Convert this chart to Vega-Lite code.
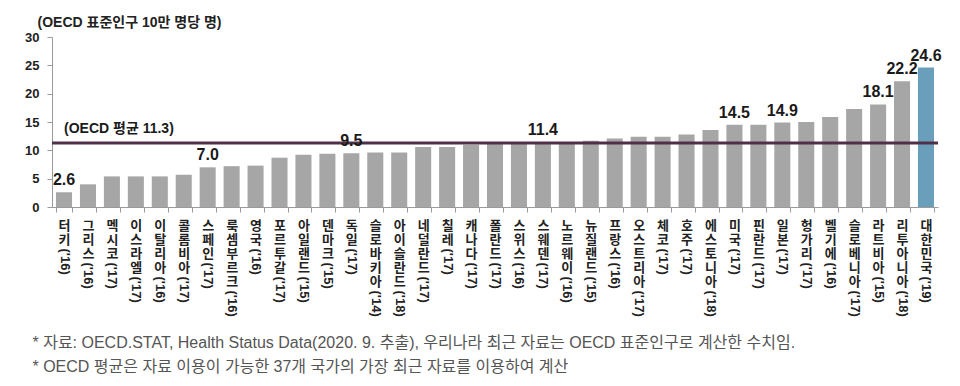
{
  "$schema": "https://vega.github.io/schema/vega-lite/v6.json",
  "width": 886,
  "height": 170,
  "autosize": "none",
  "padding": {"left": 52, "top": 37, "right": 22, "bottom": 179},
  "background": "white",
  "config": {"view": {"stroke": null}, "font": "Liberation Sans"},
  "data": {"values": [
    {"label": "터키('16)", "v": 2.6, "lbl": "2.6", "kr": false},
    {"label": "그리스('16)", "v": 4.0, "kr": false},
    {"label": "멕시코('17)", "v": 5.4, "kr": false},
    {"label": "이스라엘('17)", "v": 5.4, "kr": false},
    {"label": "이탈리아('16)", "v": 5.4, "kr": false},
    {"label": "콜롬비아('17)", "v": 5.7, "kr": false},
    {"label": "스페인('17)", "v": 7.0, "lbl": "7.0", "kr": false},
    {"label": "룩셈부르크('16)", "v": 7.2, "kr": false},
    {"label": "영국('16)", "v": 7.3, "kr": false},
    {"label": "포르투갈('17)", "v": 8.7, "kr": false},
    {"label": "아일랜드('15)", "v": 9.2, "kr": false},
    {"label": "덴마크('15)", "v": 9.4, "kr": false},
    {"label": "독일('17)", "v": 9.5, "lbl": "9.5", "kr": false},
    {"label": "슬로바키아('14)", "v": 9.6, "kr": false},
    {"label": "아이슬란드('18)", "v": 9.6, "kr": false},
    {"label": "네덜란드('17)", "v": 10.6, "kr": false},
    {"label": "칠레('17)", "v": 10.6, "kr": false},
    {"label": "캐나다('17)", "v": 11.0, "kr": false},
    {"label": "폴란드('17)", "v": 11.1, "kr": false},
    {"label": "스위스('16)", "v": 11.2, "kr": false},
    {"label": "스웨덴('17)", "v": 11.4, "lbl": "11.4", "kr": false},
    {"label": "노르웨이('16)", "v": 11.4, "kr": false},
    {"label": "뉴질랜드('15)", "v": 11.7, "kr": false},
    {"label": "프랑스('16)", "v": 12.1, "kr": false},
    {"label": "오스트리아('17)", "v": 12.4, "kr": false},
    {"label": "체코('17)", "v": 12.4, "kr": false},
    {"label": "호주('17)", "v": 12.8, "kr": false},
    {"label": "에스토니아('18)", "v": 13.6, "kr": false},
    {"label": "미국('17)", "v": 14.5, "lbl": "14.5", "kr": false},
    {"label": "핀란드('17)", "v": 14.5, "kr": false},
    {"label": "일본('17)", "v": 14.9, "lbl": "14.9", "kr": false},
    {"label": "헝가리('17)", "v": 15.0, "kr": false},
    {"label": "벨기에('16)", "v": 15.9, "kr": false},
    {"label": "슬로베니아('17)", "v": 17.3, "kr": false},
    {"label": "라트비아('15)", "v": 18.1, "lbl": "18.1", "kr": false},
    {"label": "리투아니아('18)", "v": 22.2, "lbl": "22.2", "kr": false},
    {"label": "대한민국('19)", "v": 24.6, "lbl": "24.6", "kr": true}
  ]},
  "resolve": {"scale": {"x": "shared", "y": "shared"}, "axis": {"x": "independent", "y": "independent"}},
  "layer": [
    {
      "mark": {"type": "bar"},
      "encoding": {
        "x": {
          "field": "label", "type": "nominal", "sort": null,
          "scale": {"paddingInner": 0.33, "paddingOuter": 0.167},
          "axis": {
            "orient": "bottom",
            "title": null,
            "labelExpr": "isString(datum.label) && indexof(datum.label, '(') > 0 ? split(split(datum.label, '(')[0], '') : ''",
            "labelAngle": 0, "labelAlign": "center", "labelBaseline": "top",
            "labelFont": "Noto Sans CJK KR", "labelFontSize": 13, "labelFontWeight": "bold",
            "labelLineHeight": 14, "labelColor": "#222222", "labelPadding": 7,
            "labelOverlap": false,
            "tickBand": "extent", "tickSize": 5, "tickColor": "#9a9a9a", "domainColor": "#9a9a9a"
          }
        },
        "y": {
          "field": "v", "type": "quantitative",
          "scale": {"domain": [0, 30], "nice": false},
          "axis": {
            "orient": "left",
            "values": [0, 5, 10, 15, 20, 25, 30], "grid": false,
            "title": "(OECD 표준인구 10만 명당 명)",
            "titleAngle": 0, "titleAlign": "left", "titleBaseline": "middle",
            "titleX": -15, "titleY": -15, "titleFont": "Liberation Sans, Noto Sans CJK KR",
            "titleFontSize": 14, "titleFontWeight": "bold", "titleColor": "#222222",
            "labelFontSize": 13, "labelFontWeight": "bold", "labelColor": "#222222",
            "labelPadding": 8, "tickSize": 5, "tickColor": "#9a9a9a", "domainColor": "#9a9a9a"
          }
        },
        "color": {
          "field": "kr", "type": "nominal",
          "scale": {"domain": [false, true], "range": ["#a6a6a6", "#6a9fbb"]},
          "legend": null
        }
      }
    },
    {
      "mark": {"type": "bar", "opacity": 0},
      "encoding": {
        "x": {
          "field": "label", "type": "nominal", "sort": null,
          "axis": {
            "orient": "bottom",
            "labelExpr": "isString(datum.label) && length(split(datum.label, '(')[0]) == 2 && indexof(datum.label, '(') > 0 ? '(' + split(datum.label, '(')[1] : ''",
            "labelAngle": 90, "labelAlign": "left", "labelBaseline": "middle",
            "labelFont": "Liberation Sans", "labelFontSize": 13, "labelFontWeight": "bold",
            "labelColor": "#222222", "labelPadding": 36, "labelOverlap": false,
            "tickBand": "extent", "tickSize": 5, "tickOpacity": 0, "domain": false,
            "title": ["* 자료: OECD.STAT, Health Status Data(2020. 9. 추출), 우리나라 최근 자료는 OECD 표준인구로 계산한 수치임.", "* OECD 평균은 자료 이용이 가능한 37개 국가의 가장 최근 자료를 이용하여 계산"],
            "titleX": -20, "titleY": 127, "titleAlign": "left", "titleBaseline": "top", "titleAngle": 0,
            "titleFont": "Liberation Sans, Noto Sans CJK KR", "titleFontSize": 16, "titleFontWeight": "normal",
            "titleColor": "#555555", "titleLineHeight": 24
          }
        },
        "y": {"field": "v", "type": "quantitative", "axis": null}
      }
    },
    {
      "mark": {"type": "bar", "opacity": 0},
      "encoding": {
        "x": {
          "field": "label", "type": "nominal", "sort": null,
          "axis": {
            "orient": "bottom", "title": null,
            "labelExpr": "isString(datum.label) && length(split(datum.label, '(')[0]) == 3 && indexof(datum.label, '(') > 0 ? '(' + split(datum.label, '(')[1] : ''",
            "labelAngle": 90, "labelAlign": "left", "labelBaseline": "middle",
            "labelFont": "Liberation Sans", "labelFontSize": 13, "labelFontWeight": "bold",
            "labelColor": "#222222", "labelPadding": 50, "labelOverlap": false,
            "tickBand": "extent", "tickSize": 5, "tickOpacity": 0, "domain": false
          }
        },
        "y": {"field": "v", "type": "quantitative", "axis": null}
      }
    },
    {
      "mark": {"type": "bar", "opacity": 0},
      "encoding": {
        "x": {
          "field": "label", "type": "nominal", "sort": null,
          "axis": {
            "orient": "bottom", "title": null,
            "labelExpr": "isString(datum.label) && length(split(datum.label, '(')[0]) == 4 && indexof(datum.label, '(') > 0 ? '(' + split(datum.label, '(')[1] : ''",
            "labelAngle": 90, "labelAlign": "left", "labelBaseline": "middle",
            "labelFont": "Liberation Sans", "labelFontSize": 13, "labelFontWeight": "bold",
            "labelColor": "#222222", "labelPadding": 64, "labelOverlap": false,
            "tickBand": "extent", "tickSize": 5, "tickOpacity": 0, "domain": false
          }
        },
        "y": {"field": "v", "type": "quantitative", "axis": null}
      }
    },
    {
      "mark": {"type": "bar", "opacity": 0},
      "encoding": {
        "x": {
          "field": "label", "type": "nominal", "sort": null,
          "axis": {
            "orient": "bottom", "title": null,
            "labelExpr": "isString(datum.label) && length(split(datum.label, '(')[0]) == 5 && indexof(datum.label, '(') > 0 ? '(' + split(datum.label, '(')[1] : ''",
            "labelAngle": 90, "labelAlign": "left", "labelBaseline": "middle",
            "labelFont": "Liberation Sans", "labelFontSize": 13, "labelFontWeight": "bold",
            "labelColor": "#222222", "labelPadding": 78, "labelOverlap": false,
            "tickBand": "extent", "tickSize": 5, "tickOpacity": 0, "domain": false
          }
        },
        "y": {"field": "v", "type": "quantitative", "axis": null}
      }
    },
    {
      "data": {"values": [{"avg": 11.3}]},
      "mark": {"type": "rule", "color": "#4e3148", "strokeWidth": 3},
      "encoding": {"y": {"field": "avg", "type": "quantitative", "axis": null}}
    },
    {
      "transform": [{"filter": "isValid(datum.lbl)"}],
      "mark": {"type": "text", "baseline": "bottom", "dy": -4, "font": "Liberation Sans", "fontSize": 16, "fontWeight": "bold", "color": "#1a1a1a"},
      "encoding": {
        "x": {"field": "label", "type": "nominal", "sort": null, "axis": null},
        "y": {"field": "v", "type": "quantitative", "axis": null},
        "text": {"field": "lbl"}
      }
    },
    {
      "data": {"values": [{"avg": 11.3, "t": "(OECD 평균 11.3)"}]},
      "mark": {"type": "text", "align": "left", "baseline": "bottom", "dy": -7, "font": "Liberation Sans, Noto Sans CJK KR", "fontSize": 14, "fontWeight": "bold", "color": "#1a1a1a"},
      "encoding": {
        "x": {"datum": "터키('16)", "axis": null},
        "y": {"field": "avg", "type": "quantitative", "axis": null},
        "text": {"field": "t"}
      }
    }
  ]
}
